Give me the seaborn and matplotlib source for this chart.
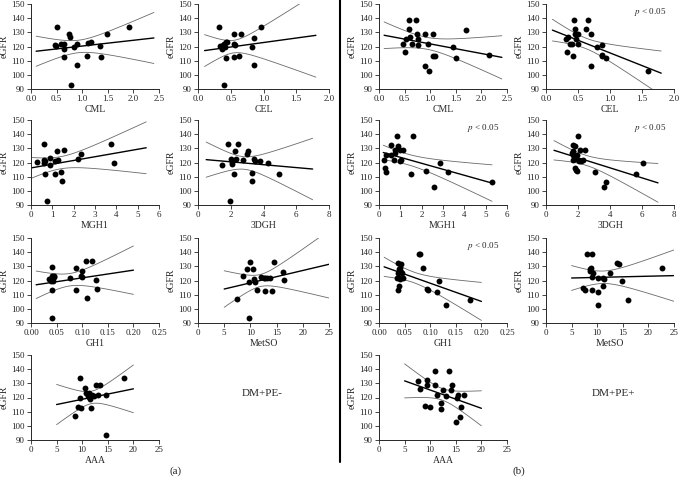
import numpy as np
import matplotlib.pyplot as plt
import seaborn as sns
from matplotlib.lines import Line2D

sns.set_style('ticks')
plt.rcParams['font.family'] = ['Liberation Serif', 'DejaVu Serif']
plt.rcParams['mathtext.fontset'] = 'stix'

# ---- group (a): DM+PE- ----
a_cml_x = [0.47, 0.48, 0.50, 0.58, 0.65, 0.65, 0.65, 0.75, 0.76, 0.78, 0.84, 0.90, 0.90, 1.10, 1.12, 1.17, 1.35, 1.36, 1.48, 1.91]
a_cml_y = [121, 120.5, 133.5, 122, 122, 118.5, 112.5, 129, 126.5, 93, 119.5, 121.5, 107, 113, 122.5, 123, 120.5, 112.5, 128.5, 133.5]
a_cel_x = [0.32, 0.33, 0.36, 0.38, 0.40, 0.41, 0.42, 0.43, 0.44, 0.55, 0.55, 0.56, 0.55, 0.63, 0.65, 0.83, 0.86, 0.86, 0.96, 0.40]
a_cel_y = [133.5, 120.5, 118.5, 121, 122, 119.5, 123, 112, 123, 129, 122, 121, 112.5, 113, 128.5, 120, 126, 107, 133.5, 93]
a_mgh_x = [0.26, 0.62, 0.62, 0.62, 0.66, 0.74, 0.90, 0.90, 1.13, 1.13, 1.20, 1.27, 1.42, 1.47, 1.55, 2.20, 2.36, 3.76, 3.91, 0.65]
a_mgh_y = [120.3, 133.2, 122, 119.4, 112.2, 92.8, 123, 118.5, 121, 112, 128.3, 121.7, 113, 106.8, 128.5, 122.6, 126, 133.2, 120, 121]
a_dgh_x = [1.45, 1.86, 1.97, 2.03, 2.07, 2.07, 2.17, 2.24, 2.32, 2.44, 2.73, 3.02, 3.06, 3.31, 3.31, 3.40, 3.46, 3.77, 4.26, 4.97]
a_dgh_y = [118.2, 133.2, 92.8, 122.2, 120.3, 119.2, 112.2, 128.3, 122.4, 133.2, 121.7, 125.7, 128.3, 112.8, 106.8, 122.4, 120.8, 121, 119.9, 112.2]
a_gh1_x = [0.036, 0.039, 0.041, 0.041, 0.042, 0.041, 0.044, 0.045, 0.041, 0.076, 0.088, 0.087, 0.098, 0.099, 0.100, 0.107, 0.109, 0.119, 0.127, 0.128]
a_gh1_y = [121, 120, 129.2, 123.4, 119.3, 113, 122.9, 122.8, 93.3, 121.5, 129, 113, 123.1, 126.6, 122.6, 134.1, 107.4, 134.1, 120.7, 113.7]
a_met_x = [7.5, 8.6, 9.3, 9.7, 10.0, 9.8, 10.5, 10.7, 10.9, 11.3, 12.0, 12.7, 12.8, 13.2, 13.8, 14.2, 14.5, 16.3, 16.5, 12.5]
a_met_y = [107, 122.9, 128.1, 119, 133, 93.3, 128.1, 121.2, 118.8, 113.2, 122.6, 121.7, 112.5, 121.7, 121.7, 112.7, 133, 126.3, 120.2, 122]
a_aaa_x = [8.6, 9.2, 9.6, 9.5, 9.7, 10.5, 10.8, 11.1, 11.3, 11.4, 11.5, 11.8, 12.0, 12.4, 12.7, 13.0, 13.4, 14.6, 14.7, 18.2]
a_aaa_y = [107, 113.4, 133.7, 119.4, 112.4, 126.4, 122.9, 121.3, 122.9, 120.1, 118.7, 112.9, 121.7, 120.8, 128.5, 121.5, 129, 121.7, 93.2, 133.7]

# ---- group (b): DM+PE+ ----
b_cml_x = [0.47, 0.50, 0.53, 0.58, 0.59, 0.60, 0.65, 0.73, 0.75, 0.76, 0.77, 0.90, 0.90, 0.95, 0.98, 1.05, 1.05, 1.10, 1.45, 1.50, 1.69, 2.15]
b_cml_y = [122, 116, 125, 132.5, 139, 126.5, 122, 139, 129, 125.5, 121, 128.5, 106, 121.5, 102.5, 128.5, 113.5, 113.5, 120, 112, 132, 114]
b_cel_x = [0.32, 0.33, 0.35, 0.37, 0.40, 0.42, 0.44, 0.45, 0.46, 0.47, 0.50, 0.50, 0.62, 0.66, 0.70, 0.70, 0.80, 0.87, 0.87, 0.88, 0.93, 1.60]
b_cel_y = [125, 116, 126.5, 122, 122, 113, 139, 132.5, 128.5, 125.5, 129, 121.5, 132.5, 139, 129, 106, 120, 114, 113.5, 121, 112, 102.5]
b_mgh_x = [0.25, 0.28, 0.33, 0.33, 0.55, 0.55, 0.68, 0.75, 0.75, 0.85, 0.87, 0.98, 1.00, 1.03, 1.12, 1.48, 1.60, 2.18, 2.58, 2.85, 3.25, 5.30]
b_mgh_y = [122, 116, 113, 125.5, 132.5, 125, 122, 129, 126.5, 139, 132, 128.5, 121, 121.5, 128.5, 112, 139, 114, 102.5, 120, 113, 106]
b_dgh_x = [1.70, 1.65, 1.70, 1.70, 1.80, 1.80, 1.90, 1.95, 1.95, 2.00, 2.05, 2.15, 2.20, 2.30, 2.45, 3.05, 3.65, 3.75, 5.60, 6.05, 1.70, 1.85]
b_dgh_y = [132.5, 127, 125, 122, 132, 116, 115, 114, 125.5, 139, 121, 129, 121, 122, 129, 113, 102.5, 106, 112, 120, 128, 122.5]
b_gh1_x = [0.037, 0.037, 0.036, 0.037, 0.041, 0.042, 0.041, 0.043, 0.040, 0.044, 0.046, 0.079, 0.081, 0.085, 0.093, 0.095, 0.117, 0.113, 0.131, 0.178, 0.039, 0.040]
b_gh1_y = [132.5, 125.5, 122, 113, 121, 132, 129, 126, 116, 125, 121.5, 139, 139, 129, 114, 113.5, 120, 112, 102.5, 106, 128, 122]
b_met_x = [7.3, 7.6, 8.0, 8.9, 8.5, 8.5, 8.7, 8.9, 9.1, 9.0, 10.1, 10.1, 10.2, 11.2, 11.3, 11.2, 12.5, 13.8, 14.3, 14.9, 16.0, 22.7]
b_met_y = [114.5, 113.5, 139, 139, 128, 127, 129, 122.5, 125, 113, 121.5, 112, 102.5, 121.5, 121, 116, 125.5, 132.5, 132, 120, 106, 129]
b_aaa_x = [7.7, 8.0, 9.0, 9.3, 9.3, 9.9, 11.0, 11.0, 11.3, 12.1, 12.2, 12.5, 13.1, 13.7, 14.0, 14.2, 15.0, 15.2, 15.5, 16.0, 15.9, 16.6]
b_aaa_y = [132, 126, 114, 132.5, 128.5, 113, 139, 129, 122, 116, 112, 125.5, 121, 139, 125, 129, 102.5, 120, 122, 113, 106, 121.5]

markers = ['CML', 'CEL', 'MGH1', '3DGH', 'GH1', 'MetSO', 'AAA']
x_ticks = {
    'CML': [0.0, 0.5, 1.0, 1.5, 2.0, 2.5],
    'CEL': [0.0, 0.5, 1.0, 1.5, 2.0],
    'MGH1': [0, 1, 2, 3, 4, 5, 6],
    '3DGH': [0, 2, 4, 6, 8],
    'GH1': [0.00, 0.05, 0.10, 0.15, 0.20, 0.25],
    'MetSO': [0, 5, 10, 15, 20, 25],
    'AAA': [0, 5, 10, 15, 20, 25],
}
x_fmt = {'CML': '{:.1f}', 'CEL': '{:.1f}', 'MGH1': '{:d}', '3DGH': '{:d}',
         'GH1': '{:.2f}', 'MetSO': '{:d}', 'AAA': '{:d}'}
y_ticks = [90, 100, 110, 120, 130, 140, 150]

# range over which the fit and its 95% band are drawn
fit_range_a = {'CML': (0.1, 2.4), 'CEL': (0.1, 1.8), 'MGH1': (0.0, 5.4), '3DGH': (0.5, 7.0),
               'GH1': (0.01, 0.2), 'MetSO': (5, 25), 'AAA': (5, 20)}
fit_range_b = {'CML': (0.1, 2.4), 'CEL': (0.1, 1.8), 'MGH1': (0.2, 5.3), '3DGH': (0.5, 7.0),
               'GH1': (0.01, 0.2), 'MetSO': (5, 25), 'AAA': (5, 20)}

group_a = {'CML': (a_cml_x, a_cml_y), 'CEL': (a_cel_x, a_cel_y), 'MGH1': (a_mgh_x, a_mgh_y),
           '3DGH': (a_dgh_x, a_dgh_y), 'GH1': (a_gh1_x, a_gh1_y), 'MetSO': (a_met_x, a_met_y),
           'AAA': (a_aaa_x, a_aaa_y)}
group_b = {'CML': (b_cml_x, b_cml_y), 'CEL': (b_cel_x, b_cel_y), 'MGH1': (b_mgh_x, b_mgh_y),
           '3DGH': (b_dgh_x, b_dgh_y), 'GH1': (b_gh1_x, b_gh1_y), 'MetSO': (b_met_x, b_met_y),
           'AAA': (b_aaa_x, b_aaa_y)}
significant_b = ['CEL', 'MGH1', '3DGH', 'GH1']


def fit_band(x, y, grid, t=2.09):
    # least squares line and 95% confidence band of the mean
    x = np.asarray(x, float)
    y = np.asarray(y, float)
    b1, b0 = np.polyfit(x, y, 1)
    yhat = b0 + b1 * grid
    s = np.sqrt(np.sum((y - (b0 + b1 * x)) ** 2) / (len(x) - 2))
    se = s * np.sqrt(1 / len(x) + (grid - x.mean()) ** 2 / np.sum((x - x.mean()) ** 2))
    return yhat, yhat - t * se, yhat + t * se


W, H = 680, 483
fig = plt.figure(figsize=(W / 100, H / 100), dpi=100)

col_left = [31, 198, 379, 546]
col_width = [128, 131, 128, 128]
row_top = [4, 120, 238, 355]
ax_h = 85

for g, (data, rng) in enumerate([(group_a, fit_range_a), (group_b, fit_range_b)]):
    for i, m in enumerate(markers):
        r, c = i // 2, i % 2 + 2 * g
        ax = fig.add_axes([col_left[c] / W, 1 - (row_top[r] + ax_h) / H,
                           col_width[c] / W, ax_h / H])
        x, y = data[m]
        grid = np.linspace(rng[m][0], rng[m][1], 100)
        yhat, lo, hi = fit_band(x, y, grid)
        ax.plot(grid, lo, color='#6a6a6a', lw=0.6)
        ax.plot(grid, hi, color='#6a6a6a', lw=0.6)
        ax.plot(grid, yhat, color='black', lw=1.0)
        sns.scatterplot(x=x, y=y, ax=ax, color='black', s=18, edgecolor='black',
                        linewidth=0, zorder=3)
        ticks = x_ticks[m]
        ax.set_xlim(ticks[0], ticks[-1])
        ax.set_ylim(90, 150)
        ax.set_xticks(ticks)
        ax.set_xticklabels([x_fmt[m].format(v) for v in ticks])
        ax.set_yticks(y_ticks)
        ax.tick_params(labelsize=6.5, length=3, width=0.6, pad=1.5, direction='out')
        ax.set_xlabel(m, fontsize=7, labelpad=1)
        ax.set_ylabel('eGFR', fontsize=7, labelpad=2)
        for sp in ['left', 'bottom']:
            ax.spines[sp].set_linewidth(0.7)
        sns.despine(ax=ax)
        if g == 1 and m in significant_b:
            ax.text(0.94, 0.9, '$p$ < 0.05', transform=ax.transAxes, ha='right',
                    va='center', fontsize=6.5)

fig.text(262 / W, 1 - 394 / H, 'DM+PE-', ha='center', va='center', fontsize=8)
fig.text(613 / W, 1 - 394 / H, 'DM+PE+', ha='center', va='center', fontsize=8)
fig.text(176 / W, 1 - 471 / H, '(a)', ha='center', va='center', fontsize=8)
fig.text(519 / W, 1 - 471 / H, '(b)', ha='center', va='center', fontsize=8)
fig.add_artist(Line2D([340 / W, 340 / W], [1, 1 - 462 / H], color='black', lw=1.5,
                      transform=fig.transFigure))

fig.savefig('out.png', dpi=100)
